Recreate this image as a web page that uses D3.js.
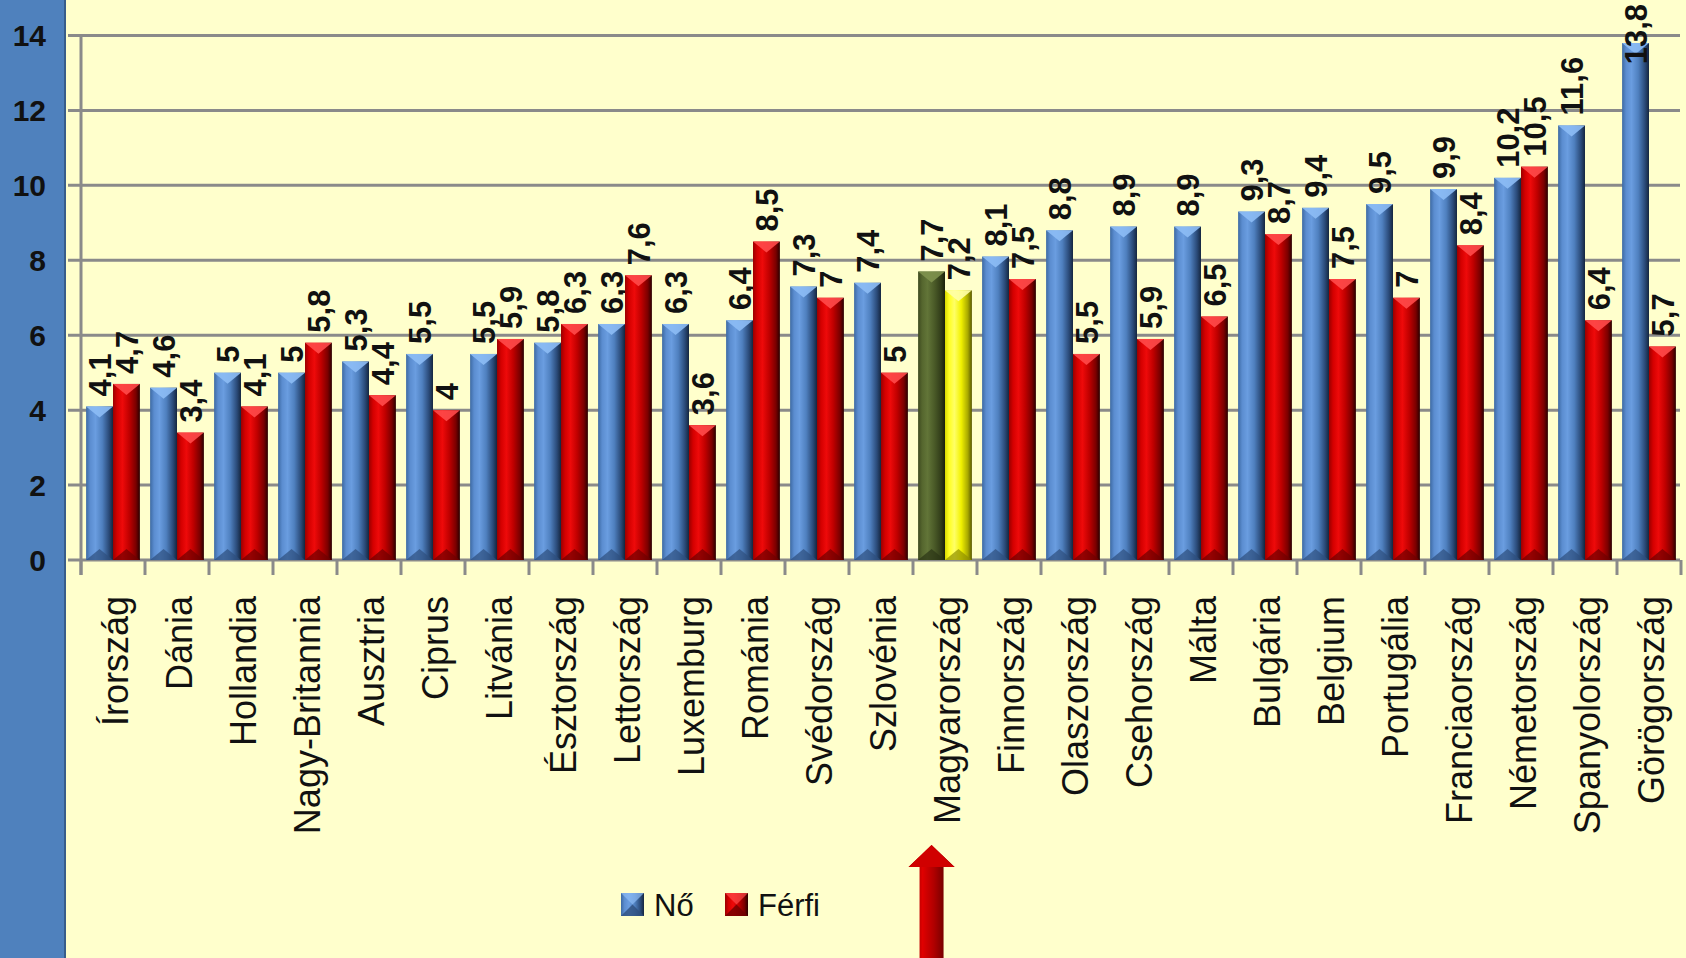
<!DOCTYPE html>
<html>
<head>
<meta charset="utf-8">
<script src="https://cdn.jsdelivr.net/npm/d3@7"></script>
<style>
  html, body { margin: 0; padding: 0; background: #ffffcc; }
  svg { display: block; }
</style>
</head>
<body>
<svg class="vis-principal" width="1686" height="958"></svg>
<script>
// adatok
const orszagok = ["Írország", "Dánia", "Hollandia", "Nagy-Britannia", "Ausztria", "Ciprus", "Litvánia",
  "Észtország", "Lettország", "Luxemburg", "Románia", "Svédország", "Szlovénia", "Magyarország",
  "Finnország", "Olaszország", "Csehország", "Málta", "Bulgária", "Belgium", "Portugália",
  "Franciaország", "Németország", "Spanyolország", "Görögország"];
const no_ertekek    = [4.1, 4.6, 5, 5, 5.3, 5.5, 5.5, 5.8, 6.3, 6.3, 6.4, 7.3, 7.4, 7.7, 8.1, 8.8, 8.9, 8.9, 9.3, 9.4, 9.5, 9.9, 10.2, 11.6, 13.8];
const ferfi_ertekek = [4.7, 3.4, 4.1, 5.8, 4.4, 4, 5.9, 6.3, 7.6, 3.6, 8.5, 7, 5, 7.2, 7.5, 5.5, 5.9, 6.5, 8.7, 7.5, 7, 8.4, 10.5, 6.4, 5.7];
const sorozatok = ["Nő", "Férfi"];
const y_ticks = [0, 2, 4, 6, 8, 10, 12, 14];
const kiemelt = "Magyarország";

const svg = d3.select("svg.vis-principal");
const W = 1686, H = 958;

const margin = { top: 35.5, right: 5, bottom: 398, left: 81 };

const dados = orszagok.map((o, i) => ({ orszag: o, "Nő": no_ertekek[i], "Férfi": ferfi_ertekek[i] }));

// paleta (gradiensek)
const paletas = {
  kek:   ["#3d6aa3", "#5b8dd0", "#6a9de0", "#4f80bf", "#2a4a78", "#15263f"],
  piros: ["#9a0000", "#d40000", "#ee0a0a", "#c00000", "#7a0000", "#2a0000"],
  zold:  ["#3d4a1f", "#55662e", "#627538", "#4b5b28", "#323d19", "#1a200c"],
  sarga: ["#d9d900", "#ffff20", "#ffff66", "#f2f200", "#a8a800", "#585800"]
};
const defs = svg.append("defs");
Object.entries(paletas).forEach(([nome, cores]) => {
  const g = defs.append("linearGradient").attr("id", "g-" + nome)
    .attr("x1", 0).attr("x2", 1).attr("y1", 0).attr("y2", 0);
  const offs = [0, 0.15, 0.35, 0.6, 0.85, 1];
  cores.forEach((c, i) => g.append("stop").attr("offset", offs[i]).attr("stop-color", c));
});
const cor_barra = (serie, orszag) => {
  if (orszag === kiemelt) return serie === "Nő" ? "zold" : "sarga";
  return serie === "Nő" ? "kek" : "piros";
};
const cor_topo = { kek: "#8dbcf5", piros: "#ff4a4a", zold: "#7f924e", sarga: "#ffffa8" };
const cor_base = { kek: "#2e4f7d", piros: "#6e0000", zold: "#2b3515", sarga: "#8f8f00" };

// fundo: faixa azul à esquerda
svg.append("rect").attr("x", 0).attr("y", 0).attr("width", 64).attr("height", H).attr("fill", "#4f81bd");
svg.append("rect").attr("x", 64).attr("y", 0).attr("width", 2).attr("height", H).attr("fill", "#385d8a");

// escalas
const x0 = d3.scaleBand().domain(orszagok).range([margin.left, W - margin.right]).padding(0);
const x1 = d3.scaleBand().domain(sorozatok).range([0, x0.bandwidth()]).paddingInner(0).paddingOuter(0.19);
const y = d3.scaleLinear().domain([0, 14]).range([H - margin.bottom, margin.top]);

// grade
svg.append("g").attr("class", "grid")
  .selectAll("line").data(y_ticks).join("line")
  .attr("x1", margin.left - 13).attr("x2", W - 6)
  .attr("y1", d => y(d)).attr("y2", d => y(d))
  .attr("stroke", "#8a8a8a").attr("stroke-width", 3);

// eixo y
svg.append("line")
  .attr("x1", margin.left).attr("x2", margin.left)
  .attr("y1", y(14)).attr("y2", y(0) + 15)
  .attr("stroke", "#8a8a8a").attr("stroke-width", 3);

svg.append("g").attr("class", "y-labels")
  .selectAll("text").data(y_ticks).join("text")
  .attr("x", 46).attr("y", d => y(d)).attr("dy", "0.36em")
  .attr("text-anchor", "end")
  .style("font-family", "'Liberation Sans', Arial, sans-serif")
  .style("font-size", "30px")
  .style("font-weight", "bold")
  .attr("fill", "#111")
  .text(d => d);

// marcas do eixo x nas fronteiras
const fronteiras = orszagok.map(o => x0(o)).concat([x0(orszagok[orszagok.length - 1]) + x0.bandwidth()]);
svg.append("g").attr("class", "x-ticks")
  .selectAll("line").data(fronteiras).join("line")
  .attr("x1", d => d).attr("x2", d => d)
  .attr("y1", y(0)).attr("y2", y(0) + 15)
  .attr("stroke", "#8a8a8a").attr("stroke-width", 3);

// barras
const grupos = svg.append("g").attr("class", "barras")
  .selectAll("g").data(dados).join("g")
  .attr("transform", d => "translate(" + x0(d.orszag) + ",0)");

const barras = grupos.selectAll("g").data(d => sorozatok.map(s => ({ serie: s, valor: d[s], orszag: d.orszag })))
  .join("g");

const bw = x1.bandwidth();
const bevel = 11;

barras.append("rect")
  .attr("x", d => x1(d.serie))
  .attr("y", d => y(d.valor))
  .attr("width", bw)
  .attr("height", d => y(0) - y(d.valor))
  .attr("fill", d => "url(#g-" + cor_barra(d.serie, d.orszag) + ")");

barras.append("path")
  .attr("d", d => {
    const xa = x1(d.serie), t = y(d.valor);
    return "M" + xa + "," + t + "L" + (xa + bw) + "," + t + "L" + (xa + bw / 2) + "," + (t + bevel) + "Z";
  })
  .attr("fill", d => cor_topo[cor_barra(d.serie, d.orszag)])
  .attr("opacity", 0.9);

barras.append("path")
  .attr("d", d => {
    const xa = x1(d.serie), b = y(0);
    return "M" + xa + "," + b + "L" + (xa + bw) + "," + b + "L" + (xa + bw / 2) + "," + (b - bevel) + "Z";
  })
  .attr("fill", d => cor_base[cor_barra(d.serie, d.orszag)])
  .attr("opacity", 0.7);

// rótulos de valor (empurrados para baixo se passarem do topo)
const fmt = v => String(v).replace(".", ",");
const rotulos = barras.append("text")
  .attr("dy", "0.36em")
  .attr("text-anchor", "start")
  .style("font-family", "'Liberation Sans', Arial, sans-serif")
  .style("font-size", "31px")
  .style("font-weight", "bold")
  .attr("fill", "#111")
  .text(d => fmt(d.valor));

rotulos.attr("transform", function(d) {
  const comp = this.getComputedTextLength();
  const base = Math.max(y(d.valor) - 10, comp + 4);
  return "translate(" + (x1(d.serie) + bw / 2) + "," + base + ") rotate(-90)";
});

// rótulos das categorias
svg.append("g").attr("class", "x-labels")
  .selectAll("text").data(orszagok).join("text")
  .attr("transform", d => "translate(" + (x0(d) + x0.bandwidth() / 2 + 2) + "," + (y(0) + 36) + ") rotate(-90)")
  .attr("dy", "0.36em")
  .attr("text-anchor", "end")
  .style("font-family", "'Liberation Sans', Arial, sans-serif")
  .style("font-size", "36px")
  .attr("fill", "#111")
  .text(d => d);

// legenda
const leg = svg.append("g").attr("class", "legenda").attr("transform", "translate(621,893)");
const leg_itens = [{ nome: "Nő", cor: "kek", dx: 0 }, { nome: "Férfi", cor: "piros", dx: 104 }];
const q = 23;
const li = leg.selectAll("g").data(leg_itens).join("g").attr("transform", d => "translate(" + d.dx + ",0)");
li.append("rect").attr("width", q).attr("height", q).attr("fill", d => "url(#g-" + d.cor + ")");
li.append("path").attr("d", "M0,0L" + q + ",0L" + q / 2 + "," + q / 2 + "Z").attr("fill", d => cor_topo[d.cor]).attr("opacity", 0.7);
li.append("path").attr("d", "M0," + q + "L" + q + "," + q + "L" + q / 2 + "," + q / 2 + "Z").attr("fill", d => cor_base[d.cor]).attr("opacity", 0.8);
li.append("text")
  .attr("x", q + 10).attr("y", q / 2).attr("dy", "0.36em")
  .style("font-family", "'Liberation Sans', Arial, sans-serif")
  .style("font-size", "31px")
  .attr("fill", "#111")
  .text(d => d.nome);

// seta apontando para a Hungria
const seta_x = x0(kiemelt) + x1("Nő") + bw / 2;
const seta_topo = 845, cab = 23, haste = 12;
const seta = svg.append("g").attr("class", "seta");
const sg = defs.append("linearGradient").attr("id", "g-seta").attr("x1", 0).attr("x2", 1);
[["0", "#5a0000"], ["0.3", "#e00000"], ["0.55", "#b00000"], ["1", "#3a0000"]]
  .forEach(s => sg.append("stop").attr("offset", s[0]).attr("stop-color", s[1]));
seta.append("path")
  .attr("d", "M" + seta_x + "," + seta_topo +
    "L" + (seta_x + cab) + "," + (seta_topo + 22) +
    "L" + (seta_x + haste) + "," + (seta_topo + 22) +
    "L" + (seta_x + haste) + "," + H +
    "L" + (seta_x - haste) + "," + H +
    "L" + (seta_x - haste) + "," + (seta_topo + 22) +
    "L" + (seta_x - cab) + "," + (seta_topo + 22) + "Z")
  .attr("fill", "url(#g-seta)");
seta.append("path")
  .attr("d", "M" + seta_x + "," + seta_topo + "L" + (seta_x + cab) + "," + (seta_topo + 22) + "L" + (seta_x - cab) + "," + (seta_topo + 22) + "Z")
  .attr("fill", "#d00000");
</script>
</body>
</html>
